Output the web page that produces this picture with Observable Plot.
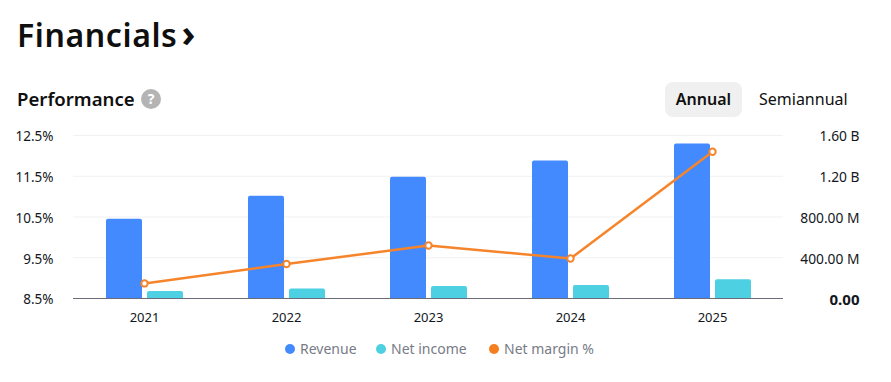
<!DOCTYPE html>
<html>
<head>
<meta charset="utf-8">
<script src="https://cdn.jsdelivr.net/npm/d3@7"></script>
<script src="https://cdn.jsdelivr.net/npm/@observablehq/plot@0.6"></script>
<style>
  html, body { margin: 0; padding: 0; background: #fff; }
  body { width: 891px; height: 382px; position: relative; overflow: hidden; font-family: "Noto Sans", sans-serif; color: #131722; }
  .abs { position: absolute; white-space: nowrap; }
  #title { left: 17px; top: 10px; font-size: 32px; line-height: 50px; font-weight: 600; color: #0f0f0f; letter-spacing: 0.6px; }
  #title span { margin-left: 4px; font-size: 38px; line-height: 38px; font-weight: 700; }
  #sub { left: 17px; top: 85px; font-size: 18.6px; line-height: 28px; font-weight: 600; color: #0f0f0f; }
  #help { left: 141px; top: 89px; width: 20px; height: 20px; line-height: 20px; border-radius: 50%; background: #b4b4b4; color: #fff; text-align: center; font-size: 14px; font-weight: 700; }
  #annual { left: 665px; top: 82px; width: 77px; height: 35px; line-height: 35px; border-radius: 8px; background: #f0f0f0; text-align: center; font-size: 16px; font-weight: 600; color: #0f0f0f; }
  #semi { left: 759px; top: 82px; line-height: 35px; font-size: 16px; color: #0f0f0f; }
  #chart { position: absolute; left: 0; top: 120px; }
  .leg { position: absolute; top: 339px; font-size: 14px; line-height: 20px; color: #787b86; white-space: nowrap; }
  .leg i { position: absolute; left: -15px; top: 5px; width: 10px; height: 10px; border-radius: 50%; }
</style>
</head>
<body>
<div class="abs" id="title">Financials<span>›</span></div>
<div class="abs" id="sub">Performance</div>
<div class="abs" id="help">?</div>
<div class="abs" id="annual">Annual</div>
<div class="abs" id="semi">Semiannual</div>
<div id="chart"></div>
<div class="leg" style="left:300px"><i style="background:#448aff"></i>Revenue</div>
<div class="leg" style="left:391px"><i style="background:#4dd0e1"></i>Net income</div>
<div class="leg" style="left:504px"><i style="background:#f57f20"></i>Net margin %</div>
<script>
const years = ["2021", "2022", "2023", "2024", "2025"];
const revenue = [0.778e9, 1.004e9, 1.19e9, 1.349e9, 1.516e9];
const netIncome = [0.069e9, 0.094e9, 0.117e9, 0.128e9, 0.183e9];
const netMargin = [8.87, 9.345, 9.8, 9.48, 12.1];
const revenueTicks = [0, 0.4e9, 0.8e9, 1.2e9, 1.6e9];
const revenueLabels = ["0.00", "400.00 M", "800.00 M", "1.20 B", "1.60 B"];
const marginTicks = [8.5, 9.5, 10.5, 11.5, 12.5];

const rows = years.map((year, i) => ({year, revenue: revenue[i], netIncome: netIncome[i], netMargin: netMargin[i]}));
const marginToRevenue = d3.scaleLinear([8.5, 12.5], [0, 1.6e9]);
const revLabel = v => revenueLabels[revenueTicks.indexOf(v)];
const ink = "#131722";

const plot = Plot.plot({
  width: 891,
  height: 210,
  marginTop: 15,
  marginBottom: 32,
  marginLeft: 73,
  marginRight: 108,
  style: {fontFamily: '"Noto Sans", sans-serif', fontSize: "13px", color: ink, background: "transparent"},
  x: {domain: years, paddingInner: 0.746, paddingOuter: 0.373, label: null},
  y: {domain: [0, 1.6e9], label: null},
  marks: [
    Plot.ruleY(revenueTicks.slice(1), {stroke: "#f0f1f3", strokeWidth: 1}),
    Plot.barY(rows, {x: "year", y: "revenue", fill: "#448aff", dx: -20, rx1y2: 0, rx2y2: 0, r: 2}),
    Plot.barY(rows, {x: "year", y: "netIncome", fill: "#4dd0e1", dx: 21, rx1y2: 0, rx2y2: 0, r: 2}),
    Plot.ruleY([0], {stroke: "#6a6d78", strokeWidth: 1}),
    Plot.line(rows, {x: "year", y: d => marginToRevenue(d.netMargin), stroke: "#f6842a", strokeWidth: 2.5}),
    Plot.dot(rows, {x: "year", y: d => marginToRevenue(d.netMargin), r: 3.2, fill: "#fff", stroke: "#f6842a", strokeWidth: 2}),
    Plot.axisX({tickSize: 0, tickPadding: 14, label: null, fontSize: 13}),
    Plot.axisY(marginTicks, {
      y: marginToRevenue, anchor: "left", tickSize: 0, tickPadding: 20, dy: 1.5, label: null,
      tickFormat: (d, i) => marginTicks[i] + "%", fontSize: 13.5
    }),
    Plot.axisY(revenueTicks.slice(1), {
      anchor: "right", tickSize: 0, tickPadding: 77, dy: 1.5, dx: -1, textAnchor: "end", label: null,
      tickFormat: revLabel, fontSize: 13.8
    }),
    Plot.axisY([0], {
      anchor: "right", tickSize: 0, tickPadding: 77, dy: 1.5, dx: -1, textAnchor: "end", label: null,
      tickFormat: revLabel, fontSize: 15, fontWeight: 700
    })
  ]
});
document.getElementById("chart").appendChild(plot);
</script>
</body>
</html>
